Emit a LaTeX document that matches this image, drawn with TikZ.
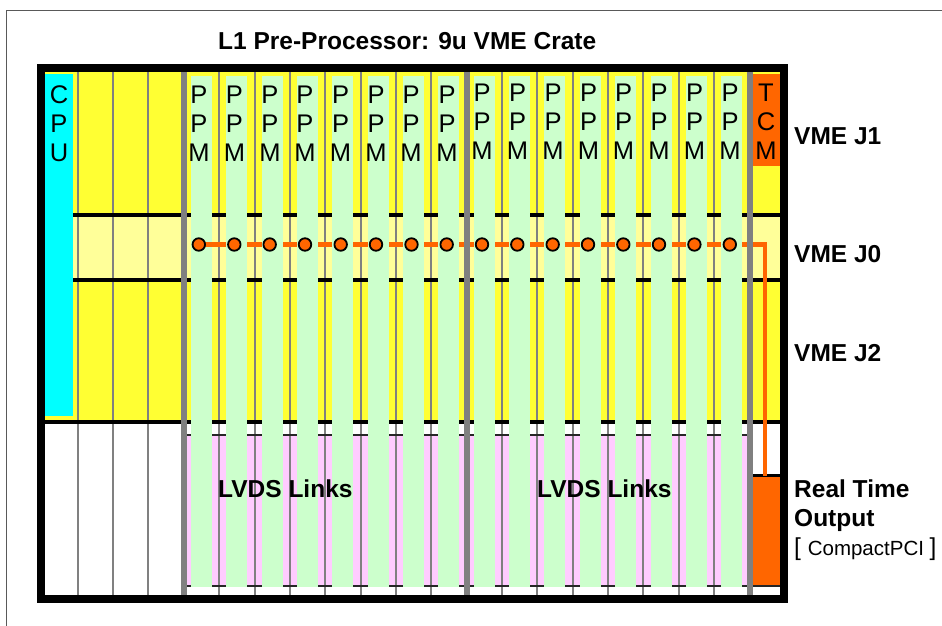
\documentclass[tikz,border=0pt]{standalone}
\usepackage{fontspec}
\setmainfont{Liberation Sans}
\definecolor{crateyellow}{HTML}{FFFF33}
\definecolor{paleyellow}{HTML}{FFFF99}
\definecolor{ppmgreen}{HTML}{CCFFCC}
\definecolor{linkpink}{HTML}{FFCCFF}
\definecolor{tcmorange}{HTML}{FF6600}
\definecolor{slotgray}{HTML}{808080}
\definecolor{cpucyan}{HTML}{00FFFF}
\tikzset{
  slotline/.style={draw=slotgray,line width=2pt},
  thickslot/.style={draw=slotgray,line width=5.8pt},
  busline/.style={draw=black,line width=4pt},
  thinbus/.style={draw=black!85,line width=1.6pt},
  orangeline/.style={draw=tcmorange,line width=4.4pt},
  pin/.style={circle,draw=black,fill=tcmorange,line width=1.8pt,minimum size=12.5pt,inner sep=0pt},
  cardlabel/.style={font=\fontsize{25.5}{29}\selectfont,align=center,anchor=north,inner sep=0pt},
  boldlabel/.style={font=\fontsize{24.5}{29}\selectfont\bfseries,anchor=base west,inner sep=0pt,align=left},
}
\begin{document}
\begin{tikzpicture}[x=1pt,y=-1pt]
\useasboundingbox (0,0) rectangle (942,626);
\fill[white] (0,0) rectangle (942,626);
\coordinate (pgTL) at (6.5,10.5);
\coordinate (pgTR) at (942,10.5);
\coordinate (pgBL) at (6.5,626);
\draw[draw=black!65,line width=1.2pt] (pgBL) -- (pgTL) -- (pgTR);
% backgrounds
\fill[crateyellow] (45,72) rectangle (780,422);
\fill[paleyellow] (73,215) rectangle (780,280);
\fill[linkpink] (187,435) rectangle (746.7,586);
\fill[tcmorange] (752,476) rectangle (780,586);
% slot lines
\foreach \x in {77.8,113.1,148.4,219.2,254.5,289.9,325.2,360.6,395.9,431.3,502,537.3,572.7,608,643.4,678.7,714.1}
  \draw[slotline] (\x,72) -- (\x,595);
% buses
\foreach \y in {215,280} \draw[busline] (73,\y) -- (780,\y);
\draw[busline] (45,422) -- (780,422);
\draw[thinbus] (187,435) -- (746.7,435);
\draw[thinbus] (187,585.7) -- (780,585.7);
\draw[line width=2.2pt] (752,475.5) -- (780,475.5);
% orange link
\foreach \i/\x in {1/198.8,2/234.3,3/269.7,4/305,5/340.7,6/376,7/411.5,8/446.7,9/482,10/517.3,11/552.7,12/588,13/623.3,14/659,15/694.4,16/729.8}
  \coordinate (d\i) at (\x,244.5);
\coordinate (bend) at (765,244.5);
\coordinate (rto) at (765,476);
\coordinate (firstend) at (213,244.5);
\draw[orangeline] (d1) -- (bend) -- (rto);
% cards
\foreach \x in {191,226,262,297,332,368,403,438,474,509.3,544,579.7,615,651,686,721}
  \fill[ppmgreen] (\x,76) rectangle (\x+21,586.7);
\draw[orangeline] (d1) -- (firstend);
\fill[cpucyan] (45,74) rectangle (73,416);
\fill[tcmorange] (752,74) rectangle (780,166);
% thick slots and frame
\foreach \x in {183.9,466.7,749.6}
  \draw[thickslot] (\x,72) -- (\x,595);
\draw[line width=8pt,black] (41,68) rectangle (784,599);
% pins
\foreach \i in {1,...,16} \node[pin] (p\i) at (d\i) {};
% labels
\node[cardlabel] (cpu) at (59,85) {C\\P\\U};
\foreach \i/\x/\y in {1/199/86,2/234.5/86,3/270/86,4/305/86,5/340.5/86,6/376/86,7/411/86,8/447/86,9/482/84,10/517.5/84,11/553/84,12/588.5/84,13/623.5/84,14/659/84,15/694.5/84,16/730/84}
  \node[cardlabel] (ppm\i) at (\x,\y) {P\\P\\M};
\node[cardlabel] (tcm) at (766,84) {T\\C\\M};
\node[boldlabel] (title) at (218,50) {L1 Pre-Processor: 9u VME Crate};
\node[boldlabel] (j1) at (794,144) {VME J1};
\node[boldlabel] (j0) at (794,262) {VME J0};
\node[boldlabel] (j2) at (794,361) {VME J2};
\node[boldlabel] (lv1) at (218,497) {LVDS Links};
\node[boldlabel] (lv2) at (537,497) {LVDS Links};
\node[boldlabel] (rt1) at (794,497) {Real Time};
\node[boldlabel] (rt2) at (794,526) {Output};
\node[anchor=base west,inner sep=0pt,font=\fontsize{24.5}{26}\selectfont] (cp) at (794,555) {[ \fontsize{20.5}{22}\selectfont CompactPCI \fontsize{24.5}{26}\selectfont ]};
\end{tikzpicture}
\end{document}
